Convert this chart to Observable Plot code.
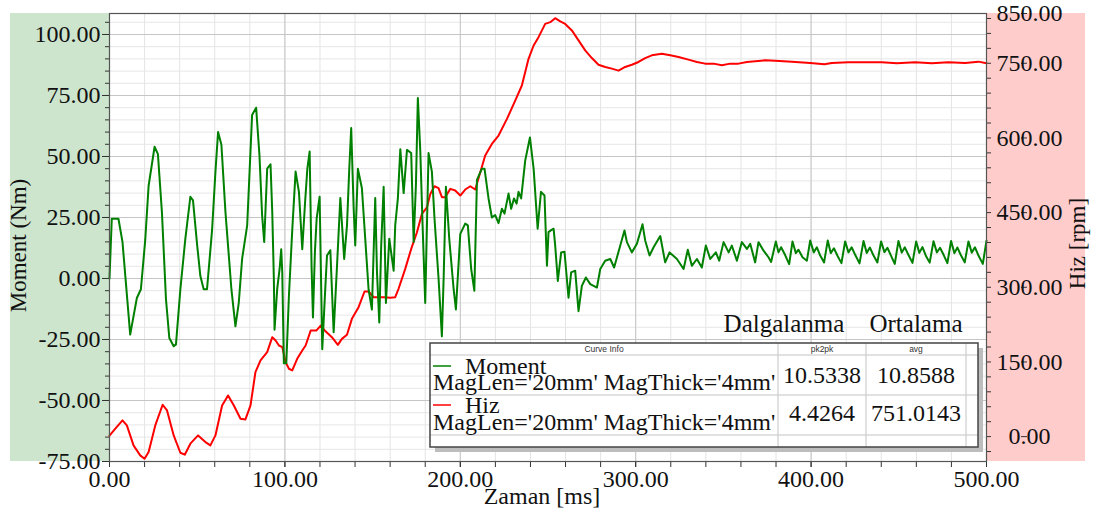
<!DOCTYPE html>
<html><head><meta charset="utf-8">
<script src="https://cdn.jsdelivr.net/npm/d3@7"></script>
<script src="https://cdn.jsdelivr.net/npm/@observablehq/plot@0.6"></script>
<style>html,body{margin:0;padding:0;background:#fff;overflow:hidden;}</style>
</head><body><div id="chart"></div>
<script>
// ---- Data ----
const momentTime = [0,1.3,5.1,7.4,11.8,15.6,17.9,20.4,22.3,25.7,27.6,29.9,32.2,34.1,36.6,37.9,40.4,43.2,46.1,47.6,50,51.8,53.7,55.6,58.5,60.4,61.9,63.8,66.1,69.5,71.8,73.7,75.6,78.5,81.3,83.6,85.5,87,88.2,89.9,91.8,92.8,93.7,94.1,95.6,97,97.9,98.5,99.4,100.8,102.3,104.2,106.1,108,109.9,111.4,112.8,114.1,115.2,116,117.1,118.1,119.8,121.3,122.9,124,125.9,127.8,129.7,131.6,133.8,135.4,136.7,137.8,139.2,140.1,141.6,143.9,145.8,147.7,149.6,151.5,152.5,153.8,154.9,156.3,157.6,159.5,162,162.9,164.4,165.8,167.7,169.6,172,173.4,174.7,175.8,177.2,178.5,180,181.9,183.8,185.3,187.6,189.5,190.5,191.8,193.7,196.2,197.5,200,202.8,204.3,206.2,208,209.5,212.3,213.8,216.1,218,219.9,221.8,223.7,225.2,227.5,229,230.6,232.1,233.2,234.7,237,239.7,241.8,244.1,246,248,249.4,250.3,251.6,253.2,254.1,255.6,257.5,259.4,261.7,263.2,265.5,267.4,269.3,271.6,274.1,277.9,279.8,282.6,285.5,287.7,291.2,293.6,295,297.8,300.7,303.9,305.4,307.9,310.2,314,316.8,319.3,323.5,327.3,329.7,332,334.9,337.7,340,342.5,345.7,347.6,350.1,353,354.8,357.7,360.5,363.4,365.3,368.1,370,372.9,375.7,377.2,379.9,381.4,382.9,385.2,387.5,389.4,391.3,392.8,395.1,397.6,399.5,401.5,403.3,405.2,407.4,409.5,411.2,413,415.1,417.3,419.4,421.3,423.1,425.2,427.6,429.9,431.7,433.5,435.6,437.8,439.9,441.8,443.5,445.6,447.7,449.8,451.7,453.4,455.6,457.8,459.9,461.7,463.5,465.5,467.6,469.8,471.7,473.5,475.6,477.7,479.8,481.7,483.4,485.5,487.6,489.7,491.6,493.4,495.5,497.9,500];
const momentValue = [0,24.5,24.5,15,-23,-8,-4.4,16,38,54,51,27,-8.5,-24.4,-27.8,-27,-4.4,16,33.5,32,13.5,1,-4.4,-4.4,20,43.8,60,54.8,27.3,-4.4,-19.6,-10,8,21.8,67,70,50.4,26,15,45,46.8,27,0,-21,-4.4,4,12,2.5,-34.7,-34.7,-7,20,43.8,35.5,12,30,45,52,5,-16,10.7,24.5,33.5,-29,-5.8,9.4,11.6,-22,5,33,8,21.8,45,61.7,28.7,13.5,45,37,16.3,-4.4,-12.7,33,2.5,-18,13.5,37.6,-10,16.3,3.2,21.8,32.8,53,35,52.7,51.4,15,38.3,74,52,21.8,-10,51.4,43.8,24.5,0,-23.7,0,37.6,16.3,-4.4,-12.7,18.3,22.5,21.8,3.9,-5,40.4,45,45,32.8,25,26,22.7,28.6,26.6,34.8,28.6,32.8,30.7,35.5,32.8,48.3,57.8,45,20.4,35.5,34,5.2,19,19.7,20.4,13.5,-1,10.7,11,-7.9,2.5,3.2,-13.4,-3,0.4,-2.3,-3.7,3.9,7.3,8,4.5,13.5,19.7,14.9,10.7,14.2,22.2,15.6,9.4,12.8,17.4,6.6,10.7,8,3.9,11.8,5.2,8,4.5,13.5,8,10.7,7.3,14.9,10.7,13.5,7.3,14.9,12.1,14.2,6.6,14.9,11.4,8.7,6.8,15.2,10.7,12.8,9.6,5.9,15.2,10.4,11.8,8.7,7.3,15.6,10.7,12.8,9.4,6.6,15.6,10.4,12.4,9.2,6.3,15.2,10.7,12.8,9.6,6.2,15.4,10.5,12.7,9.4,6.6,15.2,10.8,12.6,9.3,6.0,15.4,10.6,12.8,9.5,6.4,15.2,10.5,12.9,9.2,6.5,15.3,10.7,12.6,9.6,6.3,15.4,10.4,12.7,9.4,6.6,15.2,10.6,12.8,9.3,6.0,15.5];
const hizTime = [0,3.2,7.4,9.9,13.7,17.5,20,22.3,26.1,30.3,32.8,36.6,40.4,42.9,46.1,50.5,54.7,57.5,60.4,64.2,67.6,70.9,74.7,77.5,80.4,83.2,86.1,89.9,92.8,94.7,96.6,98.5,100.4,102.3,104.2,107,109.9,111.8,114.7,117.9,120.4,123,126.8,130.2,132.5,135.4,138.2,142,145.4,147.7,150.6,156.3,160.1,162.9,164.8,168.6,172,175.3,178.1,181,182.9,185.3,187.6,189.5,191.4,194.3,197.1,200,202.8,205.7,208.5,211.4,214.2,218,221.8,226.6,231.3,235.1,238.9,241.8,244.6,248.4,251.3,254.1,257,259.8,263.6,267.4,271.2,275,278.8,282.6,286.4,290.2,294,297.8,301.6,305.4,309.2,314.9,319.7,324.4,330.1,334.9,339.6,344.4,349.1,353.9,358.6,363.4,368.1,373.8,379.5,389,399.5,407.6,411.8,421.3,430.8,440.3,448.9,459.3,468.8,478.3,487.8,495.4,500];
const hizValue = [2,15.7,32.5,22.5,-17.6,-37.7,-44.4,-31,22.5,64,52.6,2.4,-32.4,-36.3,-14.2,2.4,-11,-17.6,2.4,62.6,82.7,62.6,35.8,34.5,62.6,129.5,153,169.7,199.8,193,183,179.8,149.6,136.3,133,156.3,173,183,213,213,223,212,199.8,184.4,196.4,204.5,236.6,260,291.5,291.5,280,280,279,280,297,337,377,410.5,447.3,460.7,487.5,503,499,481,481,497.7,494.3,484.3,496.4,503,496.4,531.2,564.7,588,604.8,638.3,675,705.4,759,785.7,802.5,829.2,832.6,840.6,834,829,816,796,776,760.5,747,742.6,739.2,735.2,742.6,747,752.6,760.5,766,769.3,766,762.6,757.3,752.6,749.3,749.3,746,749.3,749.3,752.6,754,756,755.3,753.3,750.7,748,750.7,752,752,752,750,752,750,752,750.7,753.3,750];

// ---- Axes / ticks / labels ----
const xMajorTicks = [0, 100, 200, 300, 400, 500];
const xMinorTicks = d3.range(0, 501, 20);
const leftMajorTicks = [-75, -50, -25, 0, 25, 50, 75, 100];
const leftMinorTicks = d3.range(-75, 106, 5);
const rightMajorTicks = [0, 150, 300, 450, 600, 750, 850];
const rightMinorTicks = d3.range(-30, 841, 30);
const leftDomain = [-75, 108.6];
const rightDomain = [-50, 850];
const xTitle = "Zaman [ms]";
const leftTitle = "Moment (Nm)";
const rightTitle = "Hiz [rpm]";
const statTitles = ["Dalgalanma", "Ortalama"];
const tableHeaders = ["Curve Info", "pk2pk", "avg"];
const seriesNames = ["Moment", "Hiz"];
const seriesColors = ["#008000", "#ff0000"];
const seriesSub = "MagLen='20mm' MagThick='4mm'";
const pk2pkValues = ["10.5338", "4.4264"];
const avgValues = ["10.8588", "751.0143"];

const k = (leftDomain[1] - leftDomain[0]) / (rightDomain[1] - rightDomain[0]);
const toLeft = r => leftDomain[0] + (r - rightDomain[0]) * k;
const fromLeft = v => rightDomain[0] + (v - leftDomain[0]) / k;
const fmt = d => Math.abs(Math.round(d * 100) / 100).toFixed(2).replace(/^/, d < -0.005 ? "-" : "");

const momentData = momentTime.map((t, i) => ({t, v: momentValue[i]}));
const hizData = hizTime.map((t, i) => ({t, v: hizValue[i]}));
const serif = "'Liberation Serif','Times New Roman',serif";

const plot = Plot.plot({
  width: 1097, height: 515,
  marginLeft: 109, marginRight: 111, marginTop: 13, marginBottom: 54,
  style: {fontFamily: serif, fontSize: "24px", color: "#111", background: "transparent"},
  x: {domain: [0, 500]},
  y: {domain: leftDomain},
  marks: [
    Plot.gridX({ticks: xMinorTicks, stroke: "#e4e4e4", strokeOpacity: 1}),
    Plot.gridY({ticks: leftMinorTicks, stroke: "#e6e6e6", strokeOpacity: 1}),
    Plot.gridX({ticks: xMajorTicks, stroke: "#c6c6c6", strokeOpacity: 1}),
    Plot.gridY({ticks: leftMajorTicks, stroke: "#c6c6c6", strokeOpacity: 1}),
    Plot.axisX({ticks: xMinorTicks, tickSize: 6, tickFormat: () => "", label: null, stroke: "#333"}),
    Plot.axisX({ticks: xMajorTicks, tickSize: 6, tickPadding: 2, tickFormat: fmt, label: null, stroke: "#333"}),
    Plot.axisY({ticks: leftMinorTicks, tickSize: 4, tickFormat: () => "", label: null, stroke: "#333"}),
    Plot.axisY({ticks: leftMajorTicks, tickSize: 7, tickPadding: 2, tickFormat: fmt, label: null, stroke: "#333"}),
    Plot.axisY({anchor: "right", ticks: rightMinorTicks.map(toLeft), tickSize: 4, tickFormat: () => "", label: null, stroke: "#333"}),
    Plot.axisY({anchor: "right", ticks: rightMajorTicks.map(toLeft), tickSize: 6, tickPadding: 3,
      tickFormat: v => fmt(fromLeft(v)), textAnchor: "middle", dx: 34, label: null, stroke: "#333"}),
    Plot.line(hizData, {x: "t", y: d => toLeft(d.v), stroke: seriesColors[1], strokeWidth: 2}),
    Plot.line(momentData, {x: "t", y: "v", stroke: seriesColors[0], strokeWidth: 2}),
    Plot.frame({stroke: "#555", strokeWidth: 1.2}),
    Plot.text([xTitle], {text: d => d, frameAnchor: "bottom", textAnchor: "middle", lineAnchor: "middle", dx: -6, dy: 35, fontSize: 24}),
    Plot.text([leftTitle], {text: d => d, frameAnchor: "left", rotate: -90, textAnchor: "middle", lineAnchor: "middle", dx: -91, dy: 8, fontSize: 23}),
    Plot.text([rightTitle], {text: d => d, frameAnchor: "right", rotate: -90, textAnchor: "middle", lineAnchor: "middle", dx: 91, dy: 6, fontSize: 23})
  ]
});

document.getElementById("chart").appendChild(plot);

// ---- Side panels and curve info table ----
const svg = d3.select(plot);
const xs = plot.scale("x"), ys = plot.scale("y");
const x0 = xs.apply(0), x1 = xs.apply(500);
const yTop = ys.apply(leftDomain[1]), yBot = ys.apply(leftDomain[0]);
const bg = svg.insert("g", ":first-child");
bg.append("rect").attr("x", 10).attr("y", yTop).attr("width", x0 - 10).attr("height", yBot - yTop).attr("fill", "#cde5cd");
bg.append("rect").attr("x", x1).attr("y", yTop).attr("width", 1085 - x1).attr("height", yBot - yTop).attr("fill", "#ffcccc");

const lg = svg.append("g").attr("font-family", serif).attr("text-anchor", "start");
lg.selectAll("text.stat").data(statTitles).join("text")
  .attr("x", (d, i) => [784, 916][i]).attr("y", 332).attr("text-anchor", "middle")
  .attr("font-size", 25).attr("fill", "#111").text(d => d);
const L = 430, R = 978, T = 343, B = 447;
lg.append("rect").attr("x", L + 5).attr("y", T + 5).attr("width", R - L).attr("height", B - T).attr("fill", "#bdbdbd");
lg.append("rect").attr("x", L).attr("y", T).attr("width", R - L).attr("height", B - T).attr("fill", "#fff");
const colX = [778, 866, 966], rowY = [355, 395, 435];
colX.forEach(c => lg.append("line").attr("x1", c).attr("x2", c).attr("y1", T).attr("y2", B).attr("stroke", "#c4c4c4"));
rowY.forEach(r => lg.append("line").attr("x1", L).attr("x2", R).attr("y1", r).attr("y2", r).attr("stroke", "#c4c4c4"));
lg.append("rect").attr("x", L).attr("y", T).attr("width", R - L).attr("height", B - T).attr("fill", "none").attr("stroke", "#444").attr("stroke-width", 1.5);
const headX = [604, 822, 916];
tableHeaders.forEach((h, i) => lg.append("text").attr("x", headX[i]).attr("y", 349).attr("dy", "0.35em")
  .attr("text-anchor", "middle").attr("font-family", "'Liberation Sans',Arial,sans-serif").attr("font-size", 8.5).attr("fill", "#333").text(h));
const rowBase = [[366, 374, 390, 383], [405, 413, 430, 421]];
seriesNames.forEach((n, i) => {
  const [dashY, nameY, subY, valY] = rowBase[i];
  lg.append("line").attr("x1", 433).attr("x2", 451).attr("y1", dashY).attr("y2", dashY).attr("stroke", seriesColors[i]).attr("stroke-width", 1.5);
  lg.append("text").attr("x", 465).attr("y", nameY).attr("text-anchor", "start").attr("font-size", 24).attr("fill", "#111").text(n);
  lg.append("text").attr("x", 433).attr("y", subY).attr("text-anchor", "start").attr("font-size", 24).attr("fill", "#111").text(seriesSub);
  lg.append("text").attr("x", 822).attr("y", valY).attr("text-anchor", "middle").attr("font-size", 24).attr("fill", "#111").text(pk2pkValues[i]);
  lg.append("text").attr("x", 916).attr("y", valY).attr("text-anchor", "middle").attr("font-size", 24).attr("fill", "#111").text(avgValues[i]);
});
</script>
</body></html>
